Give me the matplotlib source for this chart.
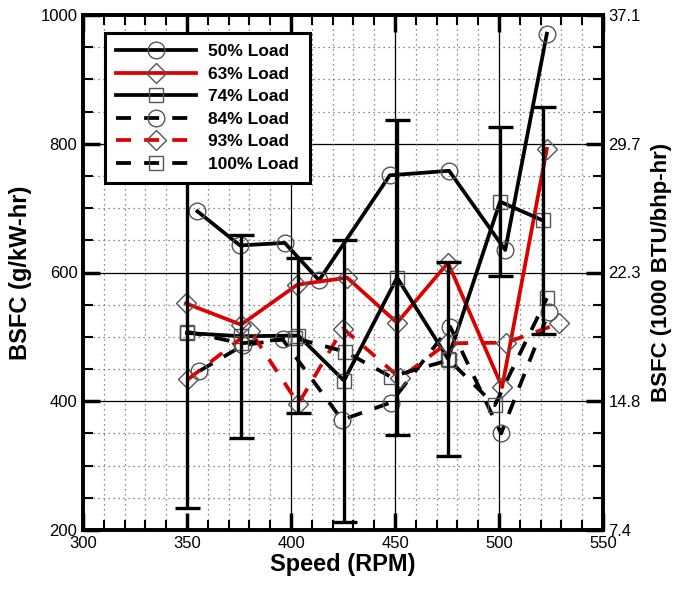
import matplotlib
matplotlib.use('Agg')
import matplotlib.pyplot as plt
from matplotlib.ticker import MultipleLocator

plt.rcParams['font.family'] = ['Liberation Sans', 'DejaVu Sans']

# ---- data ----
rpm_50 = [355, 375.5, 397, 413.5, 447.5, 476, 503, 523]
bsfc_50 = [695, 642, 646, 588, 751, 758, 635, 971]

rpm_63 = [349.5, 376, 403, 427, 451, 475.5, 501.5, 523]
bsfc_63 = [552, 519, 581, 592, 522, 615, 422, 792]

rpm_74 = [350, 376, 403.5, 425.5, 451, 475.5, 500.5, 521]
bsfc_74 = [506, 501, 502, 432, 592, 466, 710, 681]
err_74 = [272, 158, 120, 219, 245, 151, 116, 176]

rpm_84 = [356, 377, 396, 424.5, 448, 476.5, 501, 524]
bsfc_84 = [447, 487, 496, 371, 398, 516, 350, 539]

rpm_93 = [350.5, 380.5, 403.5, 425, 452.5, 475, 503.5, 529]
bsfc_93 = [434, 509, 396, 513, 436, 490, 491, 521]

rpm_100 = [350, 376, 402, 426, 448, 476, 498, 523]
bsfc_100 = [508, 490, 498, 477, 438, 464, 394, 560]

x_ticks = [300, 350, 400, 450, 500, 550]
y_ticks = [200, 400, 600, 800, 1000]
right_tick_labels = ['7.4', '14.8', '22.3', '29.7', '37.1']

# ---- figure ----
fig = plt.figure(figsize=(6.78, 5.89), dpi=100)
ax = fig.add_axes([83/678, 59/589, 520/678, 515/589])

RED = '#dd0000'
MEC = '#555555'
LW = 2.7
DASH = (0, (4, 3.5))

# grids
ax.set_xlim(300, 550)
ax.set_ylim(200, 1000)
ax.xaxis.set_minor_locator(MultipleLocator(10))
ax.yaxis.set_minor_locator(MultipleLocator(50))
ax.grid(which='minor', linestyle=(0, (1, 3)), color='#666666', linewidth=0.9, zorder=0)
for gx in [400, 450, 500]:
    ax.axvline(gx, color='black', linewidth=0.9, zorder=0.5)
for gy in [400, 600, 800]:
    ax.axhline(gy, color='black', linewidth=0.9, zorder=0.5)

common = dict(markerfacecolor='none', markeredgecolor=MEC, markeredgewidth=1.0, linewidth=LW)
l50, = ax.plot(rpm_50, bsfc_50, color='black', marker='o', markersize=12, label='50% Load', **common)
l63, = ax.plot(rpm_63, bsfc_63, color=RED, marker='D', markersize=10, label='63% Load', **common)
l74, = ax.plot(rpm_74, bsfc_74, color='black', marker='s', markersize=10, label='74% Load', **common)
ax.errorbar(rpm_74, bsfc_74, yerr=err_74, fmt='none', ecolor='black', elinewidth=2.4,
            capsize=9, capthick=2.4, zorder=3)
l84, = ax.plot(rpm_84, bsfc_84, color='black', marker='o', markersize=12, linestyle=DASH,
               label='84% Load', **common)
l93, = ax.plot(rpm_93, bsfc_93, color=RED, marker='D', markersize=10, linestyle=DASH,
               label='93% Load', **common)
l100, = ax.plot(rpm_100, bsfc_100, color='black', marker='s', markersize=10, linestyle=DASH,
                label='100% Load', **common)

ax.set_xticks(x_ticks)
ax.set_yticks(y_ticks)
ax.tick_params(which='major', direction='in', length=12, width=2.5, top=True, right=False,
               labelsize=12, pad=4)
ax.tick_params(which='minor', direction='in', length=7, width=1.5, top=True, right=False)
for s in ax.spines.values():
    s.set_linewidth(2.6)

ax.set_xlabel('Speed (RPM)', fontsize=17, fontweight='bold', labelpad=2)
ax.set_ylabel('BSFC (g/kW-hr)', fontsize=17, fontweight='bold', labelpad=6)

ax2 = ax.twinx()
ax2.set_ylim(200, 1000)
ax2.set_yticks(y_ticks)
ax2.set_yticklabels(right_tick_labels)
ax2.yaxis.set_minor_locator(MultipleLocator(50))
ax2.tick_params(which='major', direction='in', length=12, width=2.5, labelsize=12, pad=4)
ax2.tick_params(which='minor', direction='in', length=7, width=1.5)
for s in ax2.spines.values():
    s.set_linewidth(2.6)
ax2.set_ylabel('BSFC (1000 BTU/bhp-hr)', fontsize=16, fontweight='bold', labelpad=7)

leg = ax.legend(handles=[l50, l63, l74, l84, l93, l100], loc='upper left',
                bbox_to_anchor=(0.042, 0.965), borderaxespad=0,
                prop={'weight': 'bold', 'size': 12.5}, handlelength=4.6,
                handletextpad=0.7, labelspacing=0.42, borderpad=0.65,
                fancybox=False, framealpha=1, edgecolor='black', numpoints=1)
leg.get_frame().set_linewidth(2.2)
leg.set_zorder(10)

fig.savefig('out.png', dpi=100)
